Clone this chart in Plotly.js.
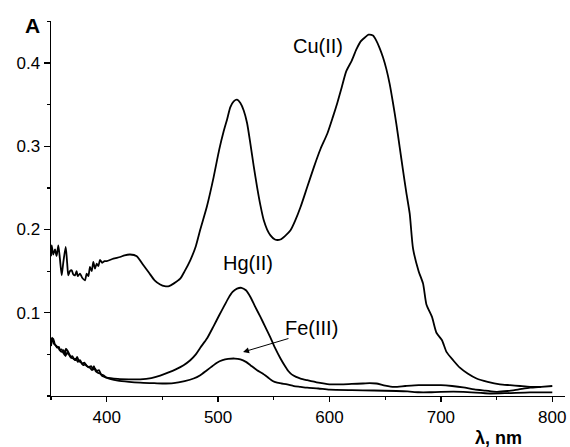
<!DOCTYPE html>
<html>
<head>
<meta charset="utf-8">
<script src="https://cdn.plot.ly/plotly-3.0.1.min.js"></script>
<style>html,body{margin:0;padding:0;background:#fff;}#chart{width:570px;height:447px;}</style>
</head>
<body>
<div id="chart"></div>
<script>
// Cu(II) spectrum
const cuX = [350,350.6,352,353.6,355,356.6,358,359.6,361,363.2,364.5,365.5,367,368.6,370,371.6,373,374,376,378,380.5,382,383.5,385,386.5,388,389.5,391,392.5,394,396,398,400,
  406,412,416,421,427,433,438,443,448,452,456,460,466,470,475,480,484,490,496,501,505,508,511,514,517,520,523,526,529,532,535,538,541,544,547,551,556,560,565,569,574,580,586,592,598,603,607,611,615,620,624,628,632,635,639,642,645,648,651,654,657,660,663,666,669,672,675,680,684,687,692,696,701,705,711,717,724,732,742,753,762,771,780,790,800];
const cuY = [0.168,0.181,0.170,0.176,0.168,0.181,0.165,0.145,0.160,0.179,0.160,0.145,0.150,0.151,0.146,0.145,0.150,0.144,0.147,0.142,0.139,0.147,0.144,0.155,0.150,0.161,0.153,0.159,0.156,0.1635,0.160,0.162,0.162,
  0.165,0.167,0.169,0.170,0.168,0.157,0.148,0.139,0.134,0.132,0.132,0.135,0.141,0.150,0.163,0.180,0.200,0.228,0.263,0.296,0.318,0.332,0.347,0.354,0.356,0.352,0.343,0.328,0.303,0.276,0.251,0.229,0.211,0.200,0.193,0.188,0.188,0.192,0.199,0.210,0.227,0.251,0.275,0.297,0.315,0.335,0.352,0.371,0.390,0.403,0.416,0.426,0.431,0.434,0.433,0.427,0.418,0.407,0.393,0.375,0.352,0.327,0.299,0.271,0.244,0.219,0.177,0.150,0.135,0.110,0.095,0.076,0.067,0.053,0.043,0.034,0.027,0.021,0.017,0.014,0.013,0.012,0.011,0.011];

// Hg(II) spectrum
const hgX = [350,350.8,352,353.5,355,356.6,358,359.5,361,362.5,363.5,365,366.5,368,370,372,373.5,375,377,379,381,383,385,387,388.5,390,392,394,396,398,400,
  410,420,430,440,448,455,462,469,475,480,484,490,496,501,505,509,513,517,521,525,529,533,538,542,547,551,556,560,563,566,570,574,580,590,600,610,620,630,636,642,650,658,668,680,690,700,710,720,730,740,750,760,770,780,790,800];
const hgY = [0.060,0.066,0.069,0.062,0.060,0.058,0.055,0.056,0.052,0.049,0.057,0.054,0.050,0.046,0.045,0.043,0.047,0.042,0.040,0.037,0.038,0.035,0.034,0.031,0.036,0.030,0.028,0.027,0.024,0.023,0.022,
  0.0205,0.020,0.020,0.0215,0.0245,0.028,0.032,0.037,0.043,0.050,0.058,0.069,0.084,0.097,0.107,0.117,0.125,0.129,0.130,0.127,0.119,0.108,0.095,0.084,0.070,0.058,0.045,0.036,0.030,0.026,0.023,0.021,0.019,0.016,0.014,0.014,0.0145,0.015,0.0155,0.015,0.0125,0.011,0.012,0.013,0.013,0.013,0.012,0.0104,0.008,0.0065,0.005,0.006,0.008,0.010,0.011,0.012];

// Fe(III) spectrum
const feX = [350,351,352.5,354,355.5,357,358.5,360,361.5,363,364.5,366,367.5,369,371,372.5,374,376,378,380,382,384,386,388,389.5,391,393,395,397,400,
  410,420,430,440,450,460,470,478,484,490,495,499,504,509,515,520,525,529,535,540,545,549,553,557,562,568,574,580,590,600,620,640,660,670,680,690,700,720,744,760,780,800];
const feY = [0.064,0.070,0.063,0.061,0.058,0.059,0.054,0.053,0.055,0.048,0.052,0.050,0.047,0.048,0.044,0.045,0.041,0.043,0.039,0.040,0.036,0.035,0.036,0.032,0.033,0.030,0.031,0.026,0.025,0.022,
  0.0185,0.017,0.016,0.0155,0.015,0.0155,0.018,0.021,0.025,0.031,0.036,0.040,0.043,0.0445,0.045,0.044,0.041,0.037,0.031,0.027,0.022,0.018,0.016,0.015,0.014,0.012,0.011,0.010,0.009,0.0076,0.007,0.0066,0.006,0.0055,0.0045,0.0045,0.005,0.005,0.003,0.0035,0.0044,0.0044];

const xTicks = [400,500,600,700,800];
const yTicks = [0.1,0.2,0.3,0.4];
const yTickText = ['0.1','0.2','0.3','0.4'];

const lineStyle = {color:'#000', width:1.8, shape:'spline', smoothing:0.6};
const traces = [
  {x:cuX, y:cuY, mode:'lines', line:lineStyle, name:'Cu(II)'},
  {x:hgX, y:hgY, mode:'lines', line:lineStyle, name:'Hg(II)'},
  {x:feX, y:feY, mode:'lines', line:lineStyle, name:'Fe(III)'}
];

const font = {family:'"Liberation Sans", Arial, sans-serif', color:'#000'};
const layout = {
  width:570, height:447,
  margin:{l:51, r:5, t:21, b:51},
  paper_bgcolor:'#fff', plot_bgcolor:'#fff',
  showlegend:false,
  font:Object.assign({size:17}, font),
  xaxis:{
    range:[350,811.4], showgrid:false, zeroline:false,
    showline:true, linecolor:'#000', linewidth:1.4,
    ticks:'outside', ticklen:5, tickwidth:1.3, tickcolor:'#000',
    tickmode:'array', tickvals:xTicks, ticktext:xTicks.map(String),
    minor:{tick0:350, dtick:50, ticks:'outside', ticklen:3, tickwidth:1.2, tickcolor:'#000', showgrid:false},
    tickfont:Object.assign({size:17}, font)
  },
  yaxis:{
    range:[0,0.4505], showgrid:false, zeroline:false,
    showline:true, linecolor:'#000', linewidth:1.4,
    ticks:'outside', ticklen:6, tickwidth:1.3, tickcolor:'#000',
    tickmode:'array', tickvals:yTicks, ticktext:yTickText,
    minor:{tick0:0, dtick:0.05, ticks:'outside', ticklen:3, tickwidth:1.2, tickcolor:'#000', showgrid:false},
    tickfont:Object.assign({size:17}, font)
  },
  annotations:[
    {text:'<b>A</b>', xref:'paper', yref:'paper', x:-0.036, y:0.987, xanchor:'center', yanchor:'middle', showarrow:false, font:Object.assign({size:21}, font)},
    {text:'<b>λ, nm</b>', xref:'paper', yref:'paper', x:0.8697, y:-0.112, xanchor:'center', yanchor:'middle', showarrow:false, font:Object.assign({size:18}, font)},
    {text:'Cu(II)', xref:'x', yref:'y', x:589.7, y:0.421, xanchor:'center', yanchor:'middle', showarrow:false, font:Object.assign({size:20}, font)},
    {text:'Hg(II)', xref:'x', yref:'y', x:526.8, y:0.1596, xanchor:'center', yanchor:'middle', showarrow:false, font:Object.assign({size:20}, font)},
    {text:'Fe(III)', xref:'x', yref:'y', x:583.4, y:0.0816, xanchor:'center', yanchor:'middle', showarrow:false, font:Object.assign({size:20}, font)},
    {text:'', xref:'x', yref:'y', x:522.4, y:0.0528, axref:'x', ayref:'y', ax:564.5, ay:0.0696, showarrow:true, arrowhead:2, arrowsize:1.2, arrowwidth:1, arrowcolor:'#000', standoff:0, startstandoff:0}
  ]
};

Plotly.newPlot('chart', traces, layout, {staticPlot:true, displayModeBar:false});
</script>
</body>
</html>
